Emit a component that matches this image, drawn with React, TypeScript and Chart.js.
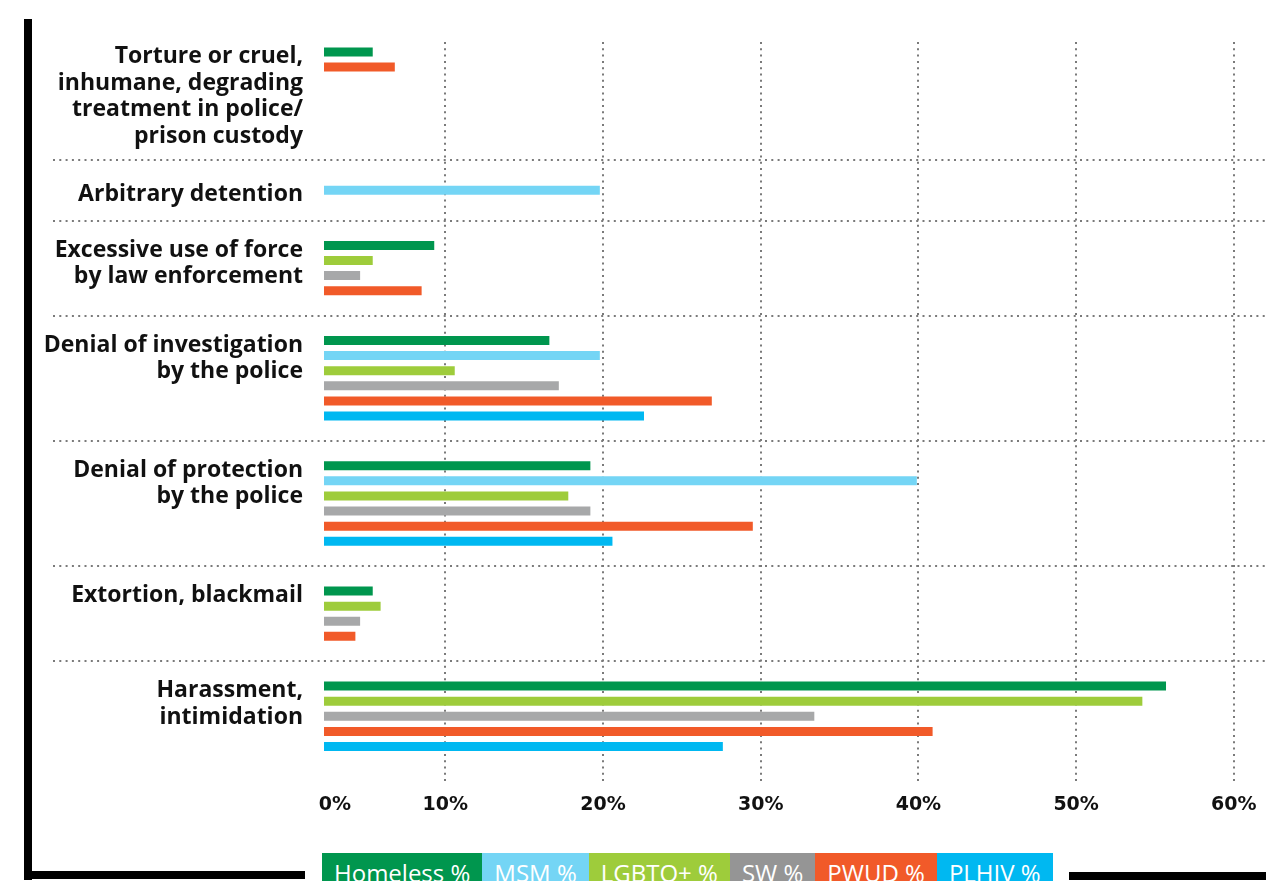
import React, { useEffect, useRef } from "react";
import { Chart, registerables } from "chart.js";

Chart.register(...registerables);

// ---------- DATA ----------
const categoryLabels: string[][] = [
  ["Torture or cruel,", "inhumane, degrading", "treatment in police/", "prison custody"],
  ["Arbitrary detention"],
  ["Excessive use of force", "by law enforcement"],
  ["Denial of investigation", "by the police"],
  ["Denial of protection", "by the police"],
  ["Extortion, blackmail"],
  ["Harassment,", "intimidation"],
];

const seriesNames = ["Homeless %", "MSM %", "LGBTQ+ %", "SW %", "PWUD %", "PLHIV %"];

const homeless = [5.4, null, 9.3, 16.6, 19.2, 5.4, 55.7];
const msm = [null, 19.8, null, 19.8, 39.9, null, null];
const lgbtq = [null, null, 5.4, 10.6, 17.8, 5.9, 54.2];
const sw = [null, null, 4.6, 17.2, 19.2, 4.6, 33.4];
const pwud = [6.8, null, 8.5, 26.9, 29.5, 4.3, 40.9];
const plhiv = [null, null, null, 22.6, 20.6, null, 27.6];

const xTickValues = [10, 20, 30, 40, 50, 60];
const xTickLabels = ["10%", "20%", "30%", "40%", "50%", "60%"];
const zeroTickLabel = "0%";

// ---------- STYLE ----------
const seriesColors = ["#00964E", "#74D5F5", "#9ECC3B", "#A7A8A9", "#F15A29", "#00B8F1"];
const legendColors = ["#00964E", "#74D5F5", "#9ECC3B", "#959595", "#F15A29", "#00B8F1"];
const GRID_COLOR = "#7a7a7a";
const TEXT_COLOR = "#111111";

// x range (in %) shown by the plot area
const X_MIN = 2.31;
const X_MAX = 62.04;
const ZERO_LABEL_AT = 3.0;

// vertical layout in bar-row units
const FIRST_TOP_PAD = 0.66;
const PAD = 1.65;
const SINGLE_PAD = 2.0;
const LINE_UNITS = 1.755;
const LABEL_SHIFT = 0.3;
const BOTTOM_TAIL = 0.77;

const seriesValues: (number | null)[][] = [homeless, msm, lgbtq, sw, pwud, plhiv];

type YTick = { value: number; label: string[] | string; sep: boolean };

function buildLayout() {
  let cursor = 0;
  const rows: { s: number; c: number; pos: number }[] = [];
  const labelTicks: YTick[] = [];
  const sepTicks: YTick[] = [];
  categoryLabels.forEach((lines, c) => {
    const present = seriesValues
      .map((vals, s) => (vals[c] == null ? -1 : s))
      .filter((s) => s >= 0);
    const n = present.length;
    const pad = n === 1 ? SINGLE_PAD : PAD;
    const topPad = c === 0 ? FIRST_TOP_PAD : pad;
    const natural = topPad + (n - 1) + pad;
    const labelMin = topPad + lines.length * LINE_UNITS + 0.15;
    const first = cursor + topPad;
    present.forEach((s, k) => rows.push({ s, c, pos: first + k }));
    labelTicks.push({
      value: first + LABEL_SHIFT + ((lines.length - 1) * LINE_UNITS) / 2,
      label: lines,
      sep: false,
    });
    cursor += Math.max(natural, labelMin);
    if (c < categoryLabels.length - 1) sepTicks.push({ value: cursor, label: "", sep: true });
  });
  return { rows, yTicks: [...labelTicks, ...sepTicks], yMax: cursor + BOTTOM_TAIL };
}

export default function App() {
  const ref = useRef<HTMLCanvasElement>(null);

  useEffect(() => {
    const { rows, yTicks, yMax } = buildLayout();
    const xTicks = [ZERO_LABEL_AT, ...xTickValues];
    const xLabels = [zeroTickLabel, ...xTickLabels];

    const datasets = seriesNames.map((name, s) => ({
      label: name,
      data: rows
        .filter((r) => r.s === s)
        .map((r) => ({ x: seriesValues[s][r.c] as number, y: r.pos })),
      backgroundColor: seriesColors[s],
      grouped: false,
      barPercentage: 0.7,
      categoryPercentage: 1,
      maxBarThickness: 9,
      clip: 0,
    }));

    const dash = [2, 4.3];

    const chart = new Chart(ref.current as HTMLCanvasElement, {
      type: "bar",
      data: { datasets: datasets as any },
      options: {
        indexAxis: "y",
        animation: false,
        responsive: false,
        layout: { padding: { top: 42, left: 0, right: 0, bottom: 0 } },
        plugins: { legend: { display: false }, tooltip: { enabled: false } },
        scales: {
          x: {
            type: "linear",
            position: "bottom",
            min: X_MIN,
            max: X_MAX,
            offset: false,
            afterBuildTicks: (axis: any) => {
              axis.ticks = xTicks.map((v) => ({ value: v }));
            },
            afterFit: (axis: any) => {
              axis.height = 98;
              axis.paddingLeft = 0;
              axis.paddingRight = 0;
            },
            ticks: {
              autoSkip: false,
              maxRotation: 0,
              padding: 11,
              color: TEXT_COLOR,
              font: { family: "'DejaVu Sans'", weight: "bold", size: 19 },
              callback: (_v: any, i: number) => xLabels[i],
            },
            grid: {
              color: (ctx: any) => (ctx.index === 0 ? "rgba(0,0,0,0)" : GRID_COLOR),
              lineWidth: 2,
              drawTicks: false,
              offset: false,
            },
            border: { display: false, dash: dash },
          },
          y: {
            type: "linear",
            reverse: true,
            min: 0,
            max: yMax,
            offset: false,
            afterBuildTicks: (axis: any) => {
              axis.ticks = yTicks.map((t) => ({ value: t.value }));
            },
            afterFit: (axis: any) => {
              axis.width = 324;
              axis.paddingTop = 0;
              axis.paddingBottom = 0;
            },
            ticks: {
              autoSkip: false,
              padding: -250,
              color: TEXT_COLOR,
              font: { family: "'Open Sans'", weight: "bold", size: 23, lineHeight: "26.5px" },
              callback: (_v: any, i: number) => yTicks[i].label,
            },
            grid: {
              color: (ctx: any) => (yTicks[ctx.index] && yTicks[ctx.index].sep ? GRID_COLOR : "rgba(0,0,0,0)"),
              tickColor: (ctx: any) =>
                yTicks[ctx.index] && yTicks[ctx.index].sep ? GRID_COLOR : "rgba(0,0,0,0)",
              lineWidth: 2,
              tickWidth: 2,
              tickBorderDash: dash,
              tickLength: 271,
              drawTicks: true,
              offset: false,
            },
            border: { display: false, dash: dash },
          },
        },
      } as any,
    });
    return () => chart.destroy();
  }, []);

  return (
    <div
      style={{
        position: "fixed",
        left: 0,
        top: 0,
        width: 1266,
        height: 881,
        overflow: "hidden",
        background: "#ffffff",
      }}
    >
      <canvas ref={ref} width={1266} height={881} style={{ position: "absolute", left: 0, top: 0 }} />
      {/* frame */}
      <div style={{ position: "absolute", left: 24, top: 19, width: 8, height: 861, background: "#000" }} />
      <div style={{ position: "absolute", left: 24, top: 871, width: 281, height: 8, background: "#000" }} />
      <div style={{ position: "absolute", left: 1069, top: 872, width: 197, height: 8, background: "#000" }} />
      {/* legend */}
      <div style={{ position: "absolute", left: 322, top: 853, display: "flex", height: 40 }}>
        {seriesNames.map((name, i) => (
          <div
            key={name}
            style={{
              background: legendColors[i],
              color: "#ffffff",
              fontFamily: "'Open Sans', sans-serif",
              fontSize: 24,
              lineHeight: "40px",
              padding: "0 12px",
              whiteSpace: "nowrap",
            }}
          >
            {name}
          </div>
        ))}
      </div>
    </div>
  );
}
